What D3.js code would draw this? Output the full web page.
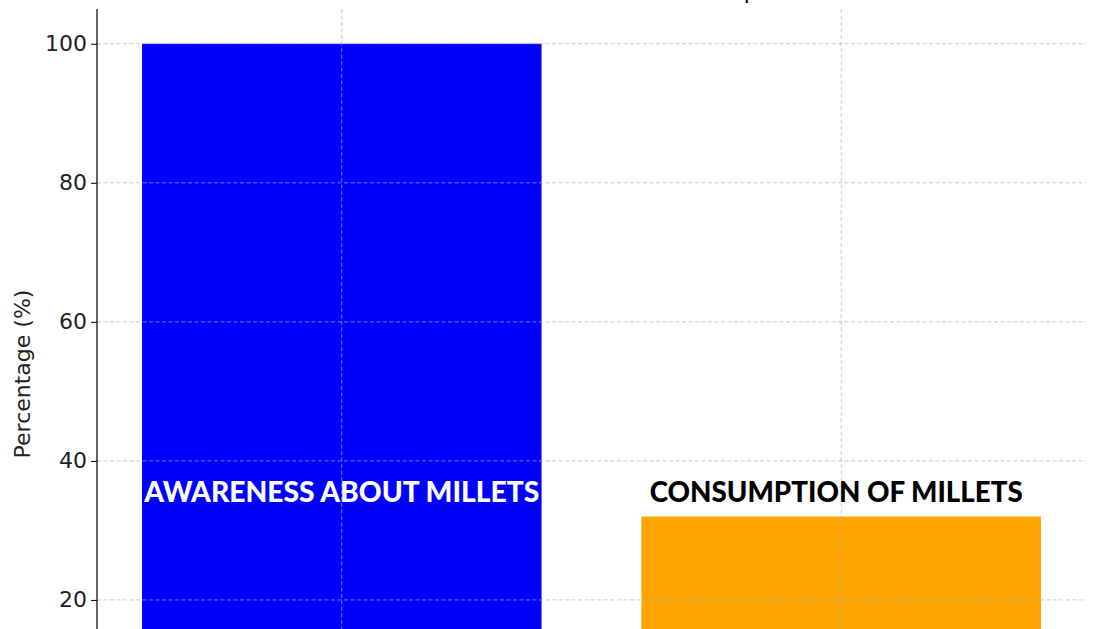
<!DOCTYPE html>
<html>
<head>
<meta charset="utf-8">
<script src="https://cdn.jsdelivr.net/npm/d3@7"></script>
<style>
  html, body { margin: 0; padding: 0; background: #fff; overflow: hidden; }
  svg { display: block; }
</style>
</head>
<body>
<svg id="chart" width="1100" height="629"></svg>
<script>
// ---- data ----
const categories = ["Awareness about Millets", "Consumption of Millets"];
const values = [100, 32];
const barColors = ["#0000FF", "#FFA500"];
const labelColors = ["#FFFFFF", "#000000"];
const yTicks = [20, 40, 60, 80, 100];
const labelValue = 34.1;
const titleText = "Millet Awareness vs Consumption";
const yLabelText = "Percentage (%)";

// ---- layout ----
const svg = d3.select("#chart");
const mLeft = 97, mRight = 1086, mTop = 9, mBottom = 739;

const x = d3.scaleLinear().domain([-0.49, 1.49]).range([mLeft, mRight]);
const y = d3.scaleLinear().domain([0, 105]).range([mBottom, mTop]);
const barW = x(0.8) - x(0);

// bars
svg.append("g").selectAll("rect")
  .data(categories)
  .join("rect")
  .attr("x", (d, i) => x(i) - barW / 2)
  .attr("width", barW)
  .attr("y", (d, i) => y(values[i]))
  .attr("height", (d, i) => y(0) - y(values[i]))
  .attr("fill", (d, i) => barColors[i]);

// grid (drawn above bars)
const grid = svg.append("g").attr("stroke", "#b0b0b0").attr("stroke-opacity", 0.75)
  .attr("stroke-width", 0.9).attr("stroke-dasharray", "4,2.5").attr("fill", "none");
grid.selectAll("line.h").data(yTicks).join("line").attr("class", "h")
  .attr("x1", mLeft).attr("x2", mRight)
  .attr("y1", d => y(d)).attr("y2", d => y(d));
grid.selectAll("line.v").data(categories).join("line").attr("class", "v")
  .attr("x1", (d, i) => x(i)).attr("x2", (d, i) => x(i))
  .attr("y1", mTop).attr("y2", mBottom);

// y axis
const yAxis = d3.axisLeft(y).tickValues(yTicks).tickSize(6).tickPadding(4);
const gy = svg.append("g").attr("transform", `translate(${mLeft},0)`).call(yAxis);
gy.select(".domain").attr("stroke", "#000").attr("stroke-width", 1.2).attr("d", `M0,${mTop}V${mBottom}`);
gy.selectAll(".tick line").attr("stroke", "#000").attr("stroke-width", 1);
gy.selectAll(".tick text").attr("font-family", "DejaVu Sans").attr("font-size", 22).attr("fill", "#222");

// y label
svg.append("text")
  .attr("transform", `translate(30,${(mTop + mBottom) / 2}) rotate(-90)`)
  .attr("text-anchor", "middle")
  .attr("font-family", "DejaVu Sans").attr("font-size", 22).attr("fill", "#222")
  .text(yLabelText);

// title (mostly cropped above the frame)
svg.append("text")
  .attr("x", (mLeft + mRight) / 2 + 24).attr("y", -1)
  .attr("text-anchor", "middle")
  .attr("font-family", "DejaVu Sans").attr("font-size", 22).attr("fill", "#000")
  .text(titleText);

// bar labels
const labelWidths = [395, 373];
svg.append("g").selectAll("text")
  .data(categories)
  .join("text")
  .attr("x", (d, i) => x(i) - (i === 1 ? 5 : 0))
  .attr("y", y(labelValue))
  .attr("text-anchor", "middle")
  .attr("font-family", "Lato").attr("font-weight", 900).attr("font-size", 27.5)
  .attr("fill", (d, i) => labelColors[i])
  .attr("textLength", (d, i) => labelWidths[i])
  .attr("lengthAdjust", "spacingAndGlyphs")
  .text(d => d.toUpperCase());
</script>
</body>
</html>
